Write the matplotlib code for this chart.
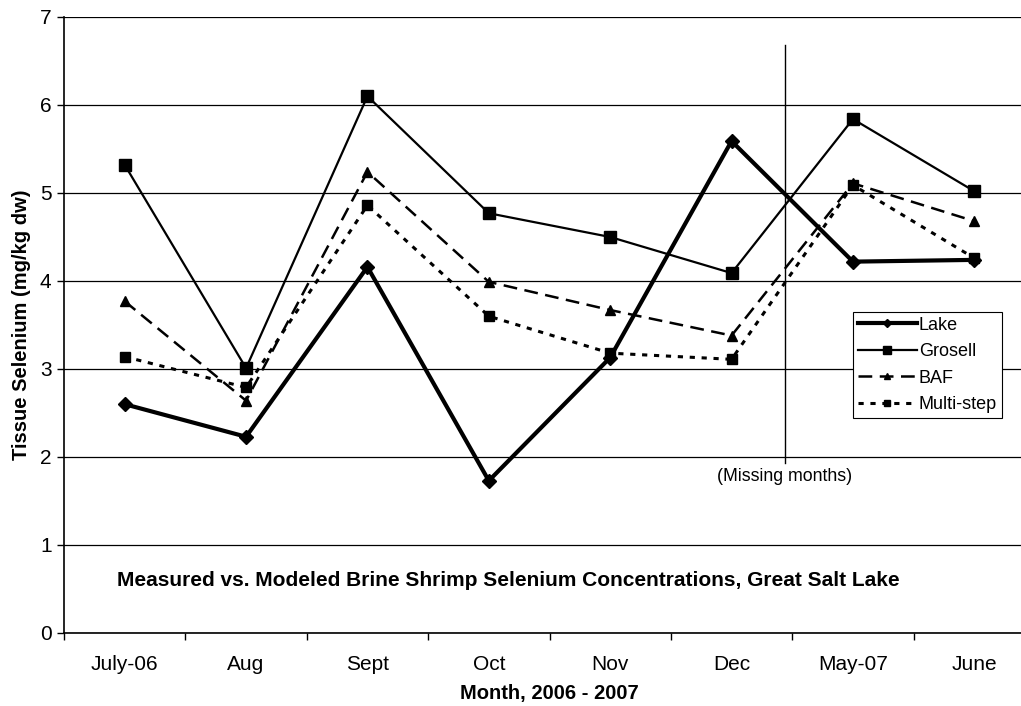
import matplotlib
matplotlib.use("Agg")
import matplotlib.pyplot as plt
import numpy as np

plt.rcParams['font.family'] = ['Liberation Sans', 'DejaVu Sans']

months = ["July-06", "Aug", "Sept", "Oct", "Nov", "Dec", "May-07", "June"]
lake = [2.60, 2.23, 4.16, 1.73, 3.13, 5.59, 4.22, 4.24]
grosell = [5.32, 3.01, 6.10, 4.77, 4.50, 4.09, 5.84, 5.02]
baf = [3.77, 2.64, 5.24, 3.99, 3.67, 3.38, 5.11, 4.68]
multistep = [3.14, 2.79, 4.86, 3.60, 3.18, 3.11, 5.09, 4.26]

fig = plt.figure(figsize=(10.21, 7.06), dpi=100)
ax = fig.add_axes([64/1021, 1-633/706, 971/1021, (633-17)/706])

x = np.arange(len(months))

ax.plot(x, lake, color='black', lw=3.0, marker='D', markersize=7.5, label='Lake', zorder=5)
ax.plot(x, grosell, color='black', lw=1.6, marker='s', markersize=9, label='Grosell', zorder=4)
ax.plot(x, baf, color='black', lw=1.8, marker='^', markersize=7, dashes=(5.5, 3), label='BAF', zorder=3)
ax.plot(x, multistep, color='black', lw=2.2, marker='s', markersize=6.5, dashes=(1.7, 2.2), label='Multi-step', zorder=3)

# missing-months separator
ax.plot([5.44, 5.44], [1.93, 6.68], color='black', lw=1.0, zorder=2)
ax.text(5.44, 1.78, "(Missing months)", ha='center', va='center', fontsize=12.8)

ax.text(-0.06, 0.60, "Measured vs. Modeled Brine Shrimp Selenium Concentrations, Great Salt Lake",
        ha='left', va='center', fontsize=15, fontweight='bold')

ax.set_xlim(-0.5, 7.5)
ax.set_ylim(0, 7)
ax.set_yticks(range(0, 8))
ax.yaxis.grid(True, color='black', lw=0.9)
ax.set_axisbelow(True)

ax.set_xticks(x)
ax.set_xticklabels(months, fontsize=15)
ax.set_xticks(np.arange(-0.5, 8.0, 1.0), minor=True)
ax.tick_params(axis='x', which='major', length=0, pad=16)
ax.tick_params(axis='x', which='minor', length=5, width=1, direction='out', color='black')
ax.tick_params(axis='y', labelsize=15, length=5, width=1, direction='out', pad=4)

for s in ['top', 'right']:
    ax.spines[s].set_visible(False)
ax.spines['left'].set_linewidth(1.2)
ax.spines['bottom'].set_linewidth(1.2)

ax.set_ylabel("Tissue Selenium (mg/kg dw)", fontsize=14.5, fontweight='bold', labelpad=6)
ax.set_xlabel("Month, 2006 - 2007", fontsize=14.5, fontweight='bold', labelpad=7)

leg = ax.legend(loc='upper left', bbox_to_anchor=(853/1021, 1-312/706), bbox_transform=fig.transFigure,
                fontsize=13, frameon=True, fancybox=False, edgecolor='black', framealpha=1,
                handlelength=3.3, handletextpad=0.1, borderpad=0.25, labelspacing=0.53,
                borderaxespad=0, markerscale=0.6)
leg.get_frame().set_linewidth(0.8)

fig.savefig("out.png", dpi=100)
